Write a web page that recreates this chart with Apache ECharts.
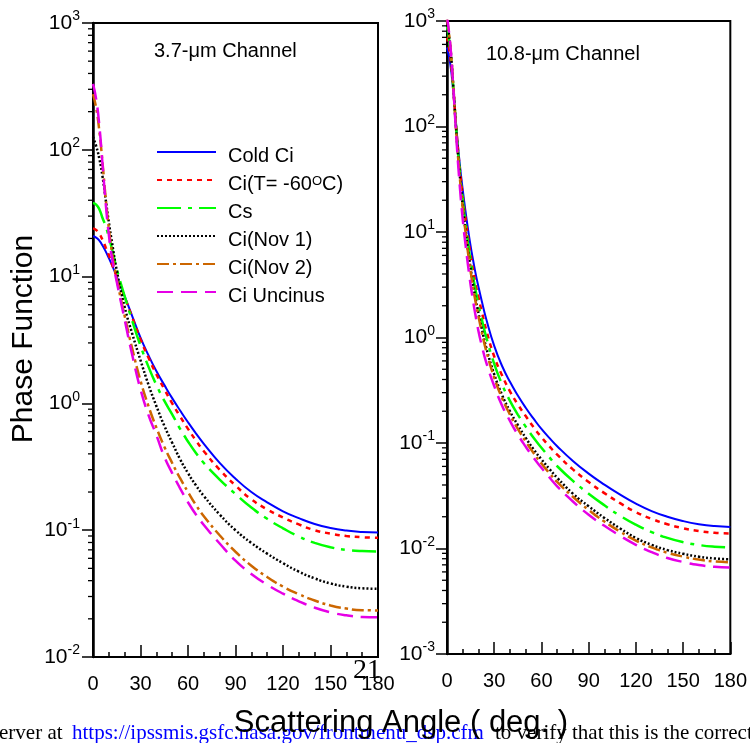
<!DOCTYPE html>
<html><head><meta charset="utf-8">
<script src="https://cdn.jsdelivr.net/npm/echarts@6/dist/echarts.min.js"></script>
<style>html,body{margin:0;padding:0;background:#fff}#c{width:750px;height:743px}</style>
</head><body><div id="c"></div>
<script>
// ---------- data ----------
const seriesNames = ['Cold Ci', 'Ci(T= -60OC)', 'Cs', 'Ci(Nov 1)', 'Ci(Nov 2)', 'Ci Uncinus'];
const xTicks = [0, 30, 60, 90, 120, 150, 180];

// 3.7-um channel
const angle37 = [0,2,4,6,8,10,12,15,20,25,30,35,40,45,50,55,60,65,70,80,90,100,110,120,130,140,150,160,170,180];
const coldCi37   = [20.8,20.3,19.2,17.6,15.8,14,12.3,10,7.0,4.8,3.3,2.4,1.8,1.4,1.1,0.88,0.71,0.58,0.48,0.34,0.255,0.2,0.166,0.141,0.1245,0.112,0.104,0.0993,0.0968,0.096];
const ciT60_37   = [24,23.3,21.8,19.5,17,14.8,12.5,10,6.9,4.7,3.2,2.3,1.7,1.3,1.0,0.79,0.63,0.51,0.42,0.3,0.225,0.175,0.146,0.126,0.111,0.1,0.094,0.09,0.088,0.087];
const cs37       = [38,37,34,29,25,20.5,16.5,11.5,7.0,4.4,2.85,1.95,1.4,1.05,0.82,0.63,0.501,0.407,0.339,0.251,0.193,0.151,0.123,0.1035,0.0891,0.0794,0.0733,0.07,0.0684,0.0679];
const ciNov1_37  = [126,107,85,61.7,40.7,26.9,18.6,11.2,5.75,3.47,2.19,1.41,0.955,0.668,0.49,0.363,0.282,0.226,0.186,0.133,0.1,0.0794,0.0653,0.055,0.0471,0.0417,0.038,0.0359,0.0348,0.0345];
const ciNov2_37  = [275,214,141,79.4,41.7,24.0,15.5,9.55,4.9,2.63,1.51,0.955,0.646,0.457,0.339,0.257,0.2,0.158,0.129,0.0912,0.0676,0.0525,0.0427,0.0359,0.0313,0.0279,0.0255,0.0241,0.0234,0.0233];
const ciUnc37    = [331,251,155,77.6,38,21.4,14.1,9.12,4.57,2.34,1.29,0.813,0.562,0.38,0.282,0.214,0.166,0.133,0.11,0.0785,0.0575,0.0452,0.0372,0.0316,0.0275,0.0245,0.0225,0.0213,0.0207,0.0206];

// 10.8-um channel
const angle108 = [0,2,4,6,8,10,12,14,16,18,20,22,25,30,35,40,45,50,55,60,65,70,80,90,100,110,120,130,140,150,160,170,180];
const coldCi108  = [562,398,214,95.5,45.7,25.1,14.8,9.12,6.03,4.17,3.02,2.24,1.48,0.832,0.537,0.38,0.282,0.216,0.17,0.136,0.112,0.0933,0.0676,0.0513,0.0403,0.0324,0.0266,0.0226,0.02,0.0182,0.017,0.0163,0.016];
const ciT60_108  = [708,468,224,91.2,41.7,21.9,12.6,7.59,4.9,3.31,2.4,1.78,1.17,0.661,0.437,0.309,0.232,0.18,0.141,0.1135,0.0933,0.0776,0.0562,0.0427,0.0335,0.0269,0.0221,0.0191,0.017,0.01556,0.01462,0.01409,0.0139];
const cs108      = [891,550,234,89.1,38.9,19.95,11.2,6.61,4.27,2.88,2.04,1.51,1.0,0.562,0.359,0.251,0.186,0.143,0.112,0.0902,0.0733,0.0603,0.0437,0.0331,0.0257,0.0204,0.0168,0.0143,0.0126,0.01148,0.01079,0.0104,0.01023];
const ciNov1_108 = [1000,589,240,85.1,36.3,17.8,9.77,5.75,3.63,2.4,1.7,1.23,0.794,0.447,0.285,0.1995,0.148,0.112,0.0871,0.07,0.0569,0.0468,0.0331,0.0251,0.0195,0.01549,0.01259,0.01084,0.00966,0.00891,0.00836,0.00804,0.00791];
const ciNov2_108 = [1047,603,240,83.2,34.7,17.0,9.33,5.37,3.39,2.24,1.585,1.148,0.741,0.417,0.266,0.186,0.136,0.1035,0.0804,0.0638,0.0519,0.0427,0.0309,0.0232,0.018,0.01445,0.01189,0.01023,0.00912,0.00838,0.00785,0.00753,0.00741];
const ciUnc108   = [1096,617,234,75.9,28.8,13.2,7.08,4.07,2.51,1.66,1.148,0.851,0.575,0.347,0.226,0.162,0.12,0.0923,0.0724,0.0582,0.0473,0.0389,0.0279,0.0209,0.0164,0.01318,0.01084,0.00923,0.00813,0.00745,0.00698,0.00671,0.00661];

// ---------- styles ----------
const SANS = "'Liberation Sans', Arial, Helvetica, sans-serif";
const SERIF = "'Liberation Serif', 'Times New Roman', serif";
const styles = [
  {color:'#0000ff', width:2,   type:'solid'},
  {color:'#ff0000', width:2.5, type:[5,5]},
  {color:'#00ff00', width:2.5, type:[24,7,4,7]},
  {color:'#000000', width:2.5, type:[2,2]},
  {color:'#cc6600', width:2.5, type:[12,4,3,4]},
  {color:'#e600e6', width:2.5, type:[16,8]}
];

const left37 = [coldCi37, ciT60_37, cs37, ciNov1_37, ciNov2_37, ciUnc37];
const right108 = [coldCi108, ciT60_108, cs108, ciNov1_108, ciNov2_108, ciUnc108];

function pairs(xs, ys){ return xs.map((x,i)=>[x, ys[i]]); }

function expLabel(v){
  const e = Math.round(Math.log10(v));
  return '{b|10}{s|' + e + '}';
}
const labelRich = {
  b:{fontSize:21, fontFamily:SANS, color:'#000', lineHeight:27},
  s:{fontSize:14, fontFamily:SANS, color:'#000', verticalAlign:'top', lineHeight:15}
};

// minor log ticks (2..9 x 10^k) – axis decoration only
function minorLogTicks(lo, hi){
  const out = [];
  for (let e = lo; e < hi; e++) for (let m = 2; m <= 9; m++) out.push(m * Math.pow(10, e));
  return out;
}

function xAxisCfg(gi){
  return {
    type:'value', gridIndex:gi, min:0, max:180, interval:30,
    axisLine:{show:true, onZero:false, lineStyle:{color:'#000', width:2}},
    axisTick:{show:true, inside:true, length:12, lineStyle:{color:'#000', width:1.5}},
    minorTick:{show:true, splitNumber:3, length:5, lineStyle:{color:'#000', width:1.5}},
    axisLabel:{margin:17, fontSize:20, fontFamily:SANS, color:'#000',
      formatter: v => xTicks.indexOf(v) >= 0 ? String(v) : ''},
    splitLine:{show:false}
  };
}
function yAxisCfg(gi, min, max, split, margin){
  return {
    type:'log', logBase:10, gridIndex:gi, min:min, max:max, splitNumber:split,
    axisLine:{show:true, lineStyle:{color:'#000', width:2.5}},
    axisTick:{show:true, inside:false, length:11, lineStyle:{color:'#000', width:1.5}},
    axisLabel:{margin:margin, formatter:expLabel, rich:labelRich},
    splitLine:{show:false}
  };
}

const series = [];
[left37, right108].forEach((set, gi) => {
  const xs = gi === 0 ? angle37 : angle108;
  set.forEach((ys, i) => {
    series.push({
      type:'line', name:seriesNames[i], xAxisIndex:gi, yAxisIndex:gi,
      data:pairs(xs, ys), symbol:'none', showSymbol:false, smooth:0.5,
      clip:true, lineStyle:{color:styles[i].color, width:styles[i].width, type:styles[i].type, cap:'butt'},
      itemStyle:{color:styles[i].color}, z:3
    });
  });
});
[[0, minorLogTicks(-2, 3)], [1, minorLogTicks(-3, 3)]].forEach(([gi, vals]) => {
  series.push({
    type:'custom', xAxisIndex:gi, yAxisIndex:gi, silent:true, clip:false, z:5,
    data: vals.map(v => [0, v]),
    renderItem: function(params, api){
      const p = api.coord([0, api.value(1)]);
      return {type:'line', shape:{x1:p[0]-5, y1:p[1], x2:p[0], y2:p[1]},
              style:{stroke:'#000', lineWidth:1.3}};
    }
  });
});

const chart = echarts.init(document.getElementById('c'), null, {renderer:'canvas'});
chart.setOption({
  animation:false,
  backgroundColor:'#ffffff',
  grid:[
    {left:93, top:23, width:285, height:634, show:true, borderColor:'#000', borderWidth:2, backgroundColor:'transparent'},
    {left:447, top:21, width:285, height:633, show:true, borderColor:'#000', borderWidth:2, backgroundColor:'transparent'}
  ],
  xAxis:[xAxisCfg(0), xAxisCfg(1)],
  yAxis:[yAxisCfg(0, 0.01, 1000, 5, 13), yAxisCfg(1, 0.001, 1000, 6, 12)],
  legend:{
    show:true, orient:'vertical', left:156, top:139, padding:0, itemWidth:59, itemHeight:14, itemGap:1,
    data:seriesNames, selectedMode:false,
    itemStyle:{opacity:0},
    textStyle:{fontSize:20, fontFamily:SANS, color:'#000', lineHeight:18, padding:[8,0,0,7],
      rich:{sup:{fontSize:13, fontFamily:SANS, color:'#000', verticalAlign:'top', lineHeight:10}}},
    formatter: name => name === 'Ci(T= -60OC)' ? 'Ci(T= -60{sup|O}C)' : name
  },
  graphic:[
    {type:'text', left:154, top:41, style:{text:'3.7-\u03bcm Channel', font:'20px ' + SANS, fill:'#000'}},
    {type:'text', left:486, top:44, style:{text:'10.8-\u03bcm Channel', font:'20px ' + SANS, fill:'#000'}},
    {type:'text', x:24, y:339, rotation:Math.PI/2, style:{text:'Phase Function', font:'30px ' + SANS, fill:'#000', align:'center', verticalAlign:'middle'}},
    {type:'text', x:-1, y:733, z:1, style:{text:'erver at', font:'21px ' + SERIF, fill:'#000', align:'left', verticalAlign:'middle'}},
    {type:'text', x:72, y:733, z:1, style:{text:'https://ipssmis.gsfc.nasa.gov/frontmenu_dsp.cfm', font:'21px ' + SERIF, fill:'#0000ff', align:'left', verticalAlign:'middle'}},
    {type:'text', x:495, y:733, z:1, style:{text:'to verify that this is the correct', font:'21px ' + SERIF, fill:'#000', align:'left', verticalAlign:'middle'}},
    {type:'text', x:401, y:723, z:10, style:{text:'Scattering Angle ( deg. )', font:'31px ' + SANS, fill:'#000', align:'center', verticalAlign:'middle'}},
    {type:'text', x:353, y:671, z:10, style:{text:'21', font:'28px ' + SERIF, fill:'#000', align:'left', verticalAlign:'middle'}}
  ],
  series:series
});
</script></body></html>
